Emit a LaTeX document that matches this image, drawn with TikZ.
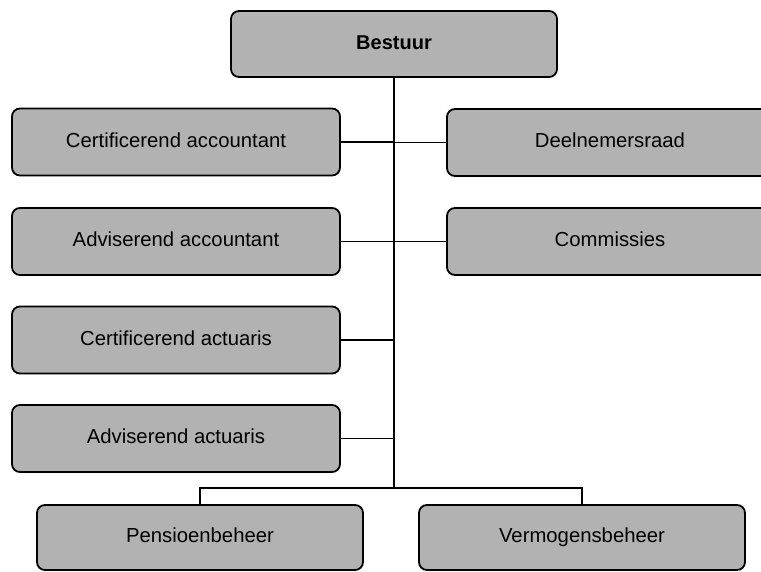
\documentclass[tikz,border=0pt]{standalone}
\usepackage{fontspec}
\setmainfont{Liberation Sans}
\begin{document}
\begin{tikzpicture}[x=1pt,y=-1pt,
  orgbox/.style={draw=black, line width=1.8pt, rounded corners=8pt, fill=black!30,
    minimum width=328pt, minimum height=67pt, inner sep=0pt,
    text height=14.5pt, text depth=4pt,
    font=\fontsize{20.3}{24}\selectfont},
  conn/.style={line width=1.6pt}]
\useasboundingbox (0,0) rectangle (761,571);
\clip (0,0) rectangle (761,571);
% boxes
\node[orgbox, minimum width=326pt, minimum height=66pt,
      font=\bfseries\fontsize{20}{24}\selectfont] (bestuur) at (394,44) {Bestuur};
\node[orgbox] (certacc) at (176,142) {Certificerend accountant};
\node[orgbox] (advacc)  at (176,241.5) {Adviserend accountant};
\node[orgbox] (certact) at (176,340) {Certificerend actuaris};
\node[orgbox] (advact)  at (176,438.5) {Adviserend actuaris};
\node[orgbox, minimum width=326pt] (deel) at (610,142.5) {Deelnemersraad};
\node[orgbox, minimum width=326pt] (comm) at (610,241.5) {Commissies};
\node[orgbox, minimum width=326pt, minimum height=65pt] (pens) at (200,537.5) {Pensioenbeheer};
\node[orgbox, minimum width=326pt, minimum height=65pt] (verm) at (582,537.5) {Vermogensbeheer};
% connectors
\coordinate (busc) at (394,488);
\draw[conn] (bestuur.south) -- (busc);
\draw[conn] (certacc.east) -- (certacc.east -| busc);
\draw[conn] (advacc.east)  -- (advacc.east -| busc);
\draw[conn] (certact.east) -- (certact.east -| busc);
\draw[conn] (advact.east)  -- (advact.east -| busc);
\draw[conn] (deel.west) -- (deel.west -| busc);
\draw[conn] (comm.west) -- (comm.west -| busc);
\draw[conn] (pens.north) -- (pens.north |- busc) -- (verm.north |- busc) -- (verm.north);
\end{tikzpicture}
\end{document}
